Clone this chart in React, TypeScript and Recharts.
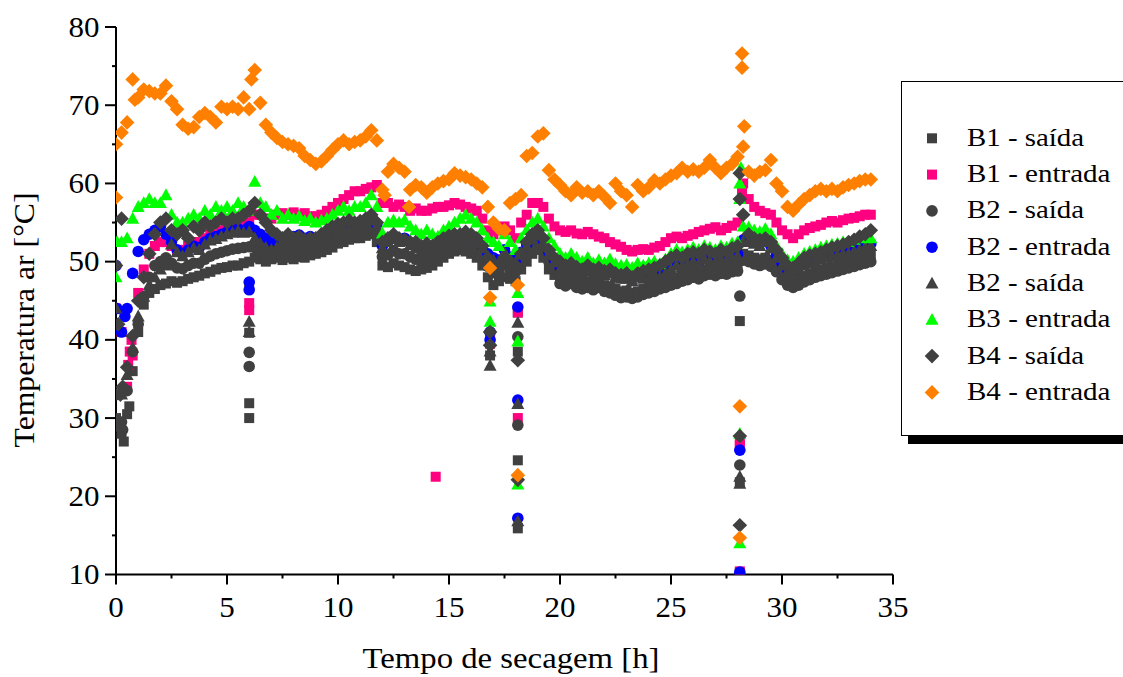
import React from 'react';
import { ScatterChart, Scatter, XAxis, YAxis } from 'recharts';

// Tempo de secagem [h] (0.25 h grid)
const TIMES = [
  0, 0.25, 0.5, 0.75, 1, 1.25, 1.5, 1.75, 2, 2.25, 2.5, 2.75, 3, 3.25, 3.5, 3.75,
  4, 4.25, 4.5, 4.75, 5, 5.25, 5.5, 5.75, 6, 6.25, 6.5, 6.75, 7, 7.25, 7.5, 7.75,
  8, 8.25, 8.5, 8.75, 9, 9.25, 9.5, 9.75, 10, 10.25, 10.5, 10.75, 11, 11.25, 11.5, 11.75,
  12, 12.25, 12.5, 12.75, 13, 13.25, 13.5, 13.75, 14, 14.25, 14.5, 14.75, 15, 15.25, 15.5, 15.75,
  16, 16.25, 16.5, 16.75, 17, 17.25, 17.5, 17.75, 18, 18.25, 18.5, 18.75, 19, 19.25, 19.5, 19.75,
  20, 20.25, 20.5, 20.75, 21, 21.25, 21.5, 21.75, 22, 22.25, 22.5, 22.75, 23, 23.25, 23.5, 23.75,
  24, 24.25, 24.5, 24.75, 25, 25.25, 25.5, 25.75, 26, 26.25, 26.5, 26.75, 27, 27.25, 27.5, 27.75,
  28, 28.25, 28.5, 28.75, 29, 29.25, 29.5, 29.75, 30, 30.25, 30.5, 30.75, 31, 31.25, 31.5, 31.75,
  32, 32.25, 32.5, 32.75, 33, 33.25, 33.5, 33.75, 34,
];

// B1 - saída (square, dark gray)
const B1_SAIDA = [
  30, 28, 30.5, 36, 41, 44.5, 46, 46.5, 47, 47.2, 47.5, 47.3, 47.5, 47.8, 48, 48.2,
  48.5, 48.7, 49, 49.2, 49.3, 49.5, 49.5, 49.8, 50, 50.5, 50.3, 50, 50.3, 50.5, 50.2, 50.5,
  50.3, 50.6, 50.5, 50.8, 51, 51.2, 51.5, 51.8, 52.3, 52.5, 52.8, 53, 53, 53.3, 53.5, 52.5,
  49.5, 49.3, 49.8, 49.5, 49.3, 49, 48.8, 49, 49.2, 49.5, 50, 50.5, 51, 51.3, 51.5, 51.3,
  51, 50.5, 49.5, 48, 47, 47.5, 48, 47.8, 47.5, 49, 50, 51, 51.5, 50.5, 49, 48.3,
  48, 47.7, 48, 47.5, 47.3, 47.5, 47.2, 47.5, 47, 46.8, 46.5, 46.2, 46.3, 46, 46.2, 46.5,
  46.8, 47, 47.3, 47.5, 47.8, 48, 48.3, 48.5, 48.8, 48.6, 49, 49.2, 49, 49.3, 49.2, 49.5,
  49.6, 51, 50.8, 50.5, 50.3, 50.5, 50.2, 49.5, 48.5, 47.8, 47.5, 47.8, 48.2, 48.5, 48.8, 49,
  49.2, 49.4, 49.6, 49.8, 50, 50.2, 50.4, 50.6, 50.8,
];
const B1_SAIDA_EXTRA = [
  [0.35, 27], [0.6, 31.5], [6.0, 47], [6.0, 40.9], [6.0, 31.9], [6.0, 30],
  [16.85, 38], [18.1, 43.5], [18.1, 38.5], [18.1, 24.6], [18.1, 15.9],
  [28.1, 42.4], [28.1, 21.8], [28.1, 10.2],
];

// B1 - entrada (square, pink)
const B1_ENTRADA = [
  44, 41, 34, 38, 46, 49, 51, 52, 52.5, 52.5, 52, 51.5, 51.5, 52, 52.5, 52.5,
  53, 53.5, 53.5, 54, 54, 54.5, 54.5, 55, 55, 56, 56, 55.5, 55.5, 56, 56.2, 56,
  56.3, 56, 56.2, 55.8, 55.8, 56, 56.5, 57, 57.5, 58, 58.5, 59, 59, 59.3, 59.5, 59.8,
  57.5, 57.5, 57, 57.3, 57, 56.5, 56.8, 56.5, 56.5, 56.8, 57, 57, 57.2, 57.5, 57.3, 57,
  56.8, 56.5, 55.5, 54, 53.5, 54, 54.5, 54, 53, 55, 56, 57.5, 57.5, 57, 55.5, 54.5,
  54, 53.8, 54, 53.6, 53.5, 53.8, 53.5, 53.2, 53, 52.5, 52.2, 51.9, 51.5, 51.3, 51.5, 51.6,
  51.5, 51.8, 52, 52.5, 53, 53.2, 53, 53.3, 53.5, 53.8, 54, 54.2, 54.4, 54, 54.3, 54.6,
  55, 60, 58, 57, 56.5, 56.2, 56, 55, 54, 53.5, 53, 53.5, 54, 54.3, 54.5, 54.7,
  55, 55.2, 55, 55.3, 55.5, 55.6, 55.8, 56, 56,
];
const B1_ENTRADA_EXTRA = [
  [0.55, 36.8], [0.62, 38.5], [0.7, 40], [6.0, 44.7], [6.0, 43.8], [14.4, 22.5],
  [16.85, 40.5], [16.85, 39.5], [18.1, 43.5], [18.1, 30], [28.1, 27], [28.1, 26.5],
  [28.1, 10.4], [28.2, 59],
];

// B2 - saída (circle, dark gray)
const B2_SAIDA_C = [
  33, 29.5, 33.5, 38.5, 42, 45.5, 48, 49.5, 50, 50.5, 49.8, 49.2, 49.1, 49.5, 49.8, 49.8,
  50.3, 50.7, 51, 51.2, 51.4, 51.6, 51.7, 51.8, 51.9, 51.8, 51.3, 50.9, 50.9, 51.2, 51.4, 51.7,
  51.6, 51.9, 51.6, 51.9, 51.8, 52, 52.3, 52.7, 53.1, 53.4, 53.5, 53.8, 53.8, 54.1, 54.4, 53.5,
  50.6, 50.9, 51.4, 51, 51, 50.6, 50.3, 50.2, 50.5, 50.4, 50.8, 51.2, 51.7, 52, 52.3, 52.3,
  52, 51.5, 50.6, 49.4, 48.6, 48.7, 49.6, 49, 48.7, 50, 51, 52, 52.5, 51.5, 50, 49.1,
  47.2, 46.9, 47.2, 46.7, 46.5, 46.7, 46.4, 46.7, 46.2, 46, 45.7, 45.4, 45.5, 45.3, 45.5, 45.8,
  46, 46.2, 46.5, 46.7, 47, 47.2, 47.5, 47.7, 48, 47.8, 48.2, 48.4, 48.2, 48.5, 48.4, 48.7,
  48.8, 50.2, 50, 49.7, 49.5, 49.7, 49.4, 48.7, 47.7, 47, 46.7, 47, 47.4, 47.7, 48, 48.2,
  48.4, 48.6, 48.8, 49, 49.2, 49.4, 49.6, 49.8, 50,
];
const B2_SAIDA_C_EXTRA = [
  [0.1, 29], [0.3, 28.5], [6.0, 38.4], [6.0, 36.6], [16.85, 41], [18.1, 40.4],
  [18.1, 29.1], [28.1, 45.6], [28.1, 24],
];

// B2 - entrada (circle, blue)
const B2_ENTRADA = [
  49.5, 41, 44, 48.5, 51.3, 52.8, 53.5, 54, 54.5, 53.5, 52.5, 51.5, 51, 51.5, 52, 51.8,
  52.5, 53, 53.2, 53.5, 53.8, 54, 54.2, 54, 54.5, 54, 53.5, 53, 52.4, 52.6, 53, 53.2,
  53.2, 53.4, 53, 53.2, 52.8, 53, 53.3, 53.8, 54.2, 54.5, 54.4, 54.8, 54.8, 55.2, 55.6, 54.8,
  52, 52.8, 53.2, 52.8, 53, 52.4, 52, 51.6, 52, 51.6, 51.8, 52.2, 52.6, 53, 53.3, 53.5,
  53.3, 52.8, 52, 51, 50.5, 50.2, 51.5, 50.6, 50.2, 51.2, 52.2, 53.2, 53.7, 52.7, 51.2, 50.2,
  49.3, 49, 49.3, 49, 48.8, 49.1, 48.6, 48.8, 48.6, 48.8, 48.3, 48.1, 48.1, 47.8, 48.3, 48.1,
  48.3, 48.6, 48.3, 48.8, 49.3, 49.8, 49.6, 50, 50.3, 50, 50.6, 50.3, 50.1, 50.6, 50.3, 50.8,
  51, 52.8, 52.8, 52.6, 52.3, 52.8, 52, 50.8, 49.8, 49, 48.8, 49.3, 49.8, 50.1, 50.3, 50.6,
  50.8, 51, 51.1, 51.3, 51.3, 51.6, 51.8, 52.1, 52.3,
];
const B2_ENTRADA_EXTRA = [
  [0.05, 44], [0.4, 43], [6.0, 47.4], [6.0, 46.4], [16.85, 41], [16.85, 40],
  [18.1, 44.2], [18.1, 32.3], [18.1, 17.2], [28.1, 25.9], [28.1, 10.3],
];

// B2 - saída (triangle, dark gray)
const B2_SAIDA_T = [
  44, 33, 35.5, 39, 43, 45.5, 47, 48, 49, 49.5, 52.2, 51.2, 50.7, 51.2, 51.7, 51.5,
  52.2, 52.7, 52.9, 53.2, 53.5, 53.7, 53.9, 53.7, 53.8, 53, 52.3, 51.8, 51.5, 51.8, 52.5, 52.9,
  52.9, 53.1, 52.7, 52.9, 52.5, 52.7, 53, 53.5, 53.9, 54.2, 54.1, 54.5, 54.5, 54.9, 55.3, 54.5,
  51.7, 52.5, 52.9, 52.5, 52.7, 52.1, 51.7, 51.3, 51.7, 51.3, 51.5, 51.9, 52.3, 52.7, 53, 53.2,
  53, 52.5, 51.7, 50.7, 50.2, 49.9, 51.2, 50.3, 49.9, 50.9, 51.9, 52.9, 53.4, 52.4, 50.9, 49.9,
  49, 48.7, 49, 48.7, 48.5, 48.8, 48.3, 48.5, 48.3, 48.5, 48, 47.8, 47.8, 47.5, 48, 47.8,
  48, 48.3, 48, 48.5, 49, 49.5, 49.3, 49.7, 50, 49.7, 50.3, 50, 49.8, 50.3, 50, 50.5,
  50.7, 52.5, 52.5, 52.3, 52, 52.5, 51.7, 50.5, 49.5, 48.7, 48.5, 49, 49.5, 49.8, 50, 50.3,
  50.5, 50.7, 50.8, 51, 51, 51.3, 51.5, 51.8, 52,
];
const B2_SAIDA_T_EXTRA = [
  [6.0, 42.3], [6.0, 41], [16.85, 36.7], [16.85, 38.5], [18.1, 42.2], [18.1, 31.8],
  [18.1, 16.8], [28.1, 21.6], [28.1, 22.5],
];

// B3 - entrada (triangle, green)
const B3_ENTRADA = [
  48, 52.5, 53, 55.5, 57, 57.5, 58, 57.5, 57.5, 58.5, 56, 55, 55, 55.5, 56, 55.5,
  56.5, 56, 57, 56.5, 57, 56.5, 57.5, 57, 56.5, 60.2, 57.5, 57, 56, 56.5, 55.5, 56,
  55.5, 55.8, 55.2, 55.5, 55, 55.3, 55.5, 56, 56.5, 57, 56.5, 57, 57, 57.5, 58.5, 57,
  53.6, 55, 55.3, 55, 55.3, 54.5, 54, 53.5, 54, 53.5, 53.2, 54, 54.5, 55, 55.5, 56,
  55.5, 55, 54, 53, 52.5, 52, 53.5, 52.5, 51.5, 53, 54, 55, 55.5, 54.5, 53, 52,
  51, 50.5, 51, 50.5, 50, 50.5, 49.8, 50.2, 49.8, 50.3, 49.7, 49.5, 49.6, 49.2, 49.8, 49.5,
  49.8, 50, 49.7, 50.3, 51, 51.5, 51.2, 51.5, 51.8, 51.5, 52, 51.8, 51.5, 52, 51.8, 52.3,
  52.5, 54.5, 54.4, 54, 53.8, 54.2, 53.5, 52, 51, 50.2, 50, 50.5, 51, 51.3, 51.5, 51.8,
  52, 52.2, 52.3, 52.5, 52.5, 52.8, 53, 53.2, 53,
];
const B3_ENTRADA_EXTRA = [
  [0.05, 52.5], [16.85, 44.9], [16.85, 42.3], [18.1, 46], [18.1, 39.8], [18.1, 21.5],
  [28.1, 14], [28.1, 28], [28.1, 58], [28.1, 60], [28.15, 62],
];

// B4 - saída (diamond, dark gray)
const B4_SAIDA = [
  49.5, 55.5, 36.5, 40.5, 45, 48, 51, 53.5, 55, 55.5, 54, 53.5, 54, 53, 54.5, 54,
  55, 54.5, 55, 55.5, 55, 55.5, 55.5, 56, 56.5, 57.5, 56, 55, 54, 53.5, 53, 53.5,
  53, 53.2, 52.8, 53, 53, 53.5, 54, 54.5, 54.8, 55, 55.3, 55, 55.2, 55.5, 56, 55,
  52.5, 53, 53.5, 53, 52.8, 52.5, 52.5, 52, 52.3, 52, 52.5, 53, 53.3, 53.5, 53.5, 53.8,
  53.5, 53, 52, 50.5, 49, 49.5, 50.5, 50, 49.5, 51, 52.5, 53.5, 54, 53, 51.5, 50.5,
  50, 49.5, 49.8, 49.3, 49, 49.5, 49, 49.2, 48.8, 49, 48.5, 48.3, 48.5, 48, 48.5, 48.8,
  49, 49.2, 49.5, 50, 50.5, 50.8, 50.5, 51, 51.2, 51, 51.5, 51.3, 51, 51.5, 51.2, 51.7,
  52, 56, 53.5, 53, 52.8, 53, 52.5, 51.5, 50.5, 49.5, 49.2, 49.8, 50.5, 50.8, 51, 51.2,
  51.5, 51.8, 52, 52.2, 52.5, 52.8, 53.2, 53.5, 54,
];
const B4_SAIDA_EXTRA = [
  [0.1, 42], [0.2, 33], [0.3, 34], [16.85, 41], [16.85, 39.3], [18.1, 37.4],
  [18.1, 22.1], [28.1, 61.3], [28.1, 58], [28.1, 27.7], [28.1, 16.3],
];

// B4 - entrada (diamond, orange)
const B4_ENTRADA = [
  65, 66.5, 67.8, 73.3, 71, 72, 71.8, 71.5, 71.5, 72.5, 70.5, 69.5, 67.5, 67, 67.2, 68.5,
  69, 68.5, 67.8, 69.8, 69.5, 69.8, 69.5, 71, 69.5, 74.5, 70.3, 67.5, 66.5, 65.8, 65.3, 65,
  64.8, 64.5, 63.5, 63, 62.5, 62.8, 63.5, 64.3, 65, 65.5, 65, 65.3, 65.5, 66, 66.8, 65.5,
  59.2, 61.5, 62.5, 62, 61.5, 59.2, 59.8, 59.5, 58.8, 59.5, 60, 60.3, 60.5, 61.3, 61, 60.8,
  60.5, 60, 59.5, 57, 55, 54.2, 54, 57.5, 58, 58.5, 63.5, 63.9, 66, 66.4, 61.7, 60.5,
  59.8, 59, 58.5, 59.5, 58.8, 59, 58.5, 59, 58.3, 57.5, 60, 59, 58.5, 57, 59.8, 59,
  59.5, 60.4, 60, 60.5, 61, 61.3, 62, 61.5, 61.8, 61.5, 62, 63, 62, 61.3, 62, 62.5,
  63.4, 64.7, 61.5, 61, 61.5, 61.7, 63, 60, 59, 57, 56.5, 57.3, 58, 58.5, 59, 59.3,
  59, 59.3, 59, 59.5, 59.8, 60, 60.3, 60.5, 60.5,
];
const B4_ENTRADA_EXTRA = [
  [0, 58.2], [0.85, 70.7], [6.1, 73.3], [12.1, 58.5], [13.2, 57], [28.2, 76.6],
  [28.2, 74.8], [28.3, 67.3], [16.85, 49.2], [16.85, 45.4], [18.1, 47], [18.1, 22.7],
  [28.1, 31.5], [28.1, 14.7],
];

const X_TICKS = [0, 2.5, 5, 7.5, 10, 12.5, 15, 17.5, 20, 22.5, 25, 27.5, 30, 32.5, 35];
const Y_TICKS = [10, 15, 20, 25, 30, 35, 40, 45, 50, 55, 60, 65, 70, 75, 80];

const GRAY = '#404040';
const PINK = '#ff0080';
const BLUE = '#0000ff';
const GREEN = '#00ff00';
const ORANGE = '#ff8000';
const FONT = "'Liberation Serif', 'Times New Roman', Tinos, 'DejaVu Serif', serif";

type Kind = 'square' | 'circle' | 'triangle' | 'diamond';

const SERIES: { name: string; kind: Kind; color: string; values: number[]; extra: number[][] }[] = [
  { name: 'B1 - saída', kind: 'square', color: GRAY, values: B1_SAIDA, extra: B1_SAIDA_EXTRA },
  { name: 'B1 - entrada', kind: 'square', color: PINK, values: B1_ENTRADA, extra: B1_ENTRADA_EXTRA },
  { name: 'B2 - saída', kind: 'circle', color: GRAY, values: B2_SAIDA_C, extra: B2_SAIDA_C_EXTRA },
  { name: 'B2 - entrada', kind: 'circle', color: BLUE, values: B2_ENTRADA, extra: B2_ENTRADA_EXTRA },
  { name: 'B2 - saída', kind: 'triangle', color: GRAY, values: B2_SAIDA_T, extra: B2_SAIDA_T_EXTRA },
  { name: 'B3 - entrada', kind: 'triangle', color: GREEN, values: B3_ENTRADA, extra: B3_ENTRADA_EXTRA },
  { name: 'B4 - saída', kind: 'diamond', color: GRAY, values: B4_SAIDA, extra: B4_SAIDA_EXTRA },
  { name: 'B4 - entrada', kind: 'diamond', color: ORANGE, values: B4_ENTRADA, extra: B4_ENTRADA_EXTRA },
];

function Marker({ kind, color, cx, cy }: { kind: Kind; color: string; cx: number; cy: number }) {
  if (cx == null || cy == null || isNaN(cx) || isNaN(cy)) return null;
  if (kind === 'square') return <rect x={cx - 5} y={cy - 5} width={10} height={10} fill={color} />;
  if (kind === 'circle') return <circle cx={cx} cy={cy} r={5.8} fill={color} />;
  if (kind === 'triangle')
    return <polygon points={`${cx},${cy - 6.8} ${cx - 6.5},${cy + 5} ${cx + 6.5},${cy + 5}`} fill={color} />;
  return <polygon points={`${cx},${cy - 7.3} ${cx + 7.3},${cy} ${cx},${cy + 7.3} ${cx - 7.3},${cy}`} fill={color} />;
}

// layout (page = svg coordinates; the chart is fixed at the top-left corner)
const W = 1123;
const H = 677;
const AXIS_X = 116;
const AXIS_Y = 574.5;
const textStyle = { fontFamily: FONT };
const TICK_FONT = 29.5;
const DIGIT_W = 15.5;

const YTick = (props: any) => {
  const { y, payload } = props;
  const v = payload.value;
  const major = v % 10 === 0;
  const label = String(v);
  return (
    <g>
      <line x1={AXIS_X - (major ? 11 : 4)} x2={AXIS_X} y1={y} y2={y} stroke="#000" strokeWidth={2} />
      {major && (
        <text
          x={AXIS_X - 16.5}
          y={y + 9.5}
          textAnchor="end"
          style={textStyle}
          fontSize={TICK_FONT}
          textLength={label.length * DIGIT_W}
          lengthAdjust="spacingAndGlyphs"
          fill="#000"
        >
          {label}
        </text>
      )}
    </g>
  );
};

const XTick = (props: any) => {
  const { x, payload } = props;
  const v = payload.value;
  const major = v % 5 === 0;
  const label = String(v);
  return (
    <g>
      <line x1={x} x2={x} y1={AXIS_Y} y2={AXIS_Y + (major ? 10 : 4)} stroke="#000" strokeWidth={2} />
      {major && (
        <text
          x={x}
          y={AXIS_Y + 42.2}
          textAnchor="middle"
          style={textStyle}
          fontSize={TICK_FONT}
          textLength={label.length * DIGIT_W}
          lengthAdjust="spacingAndGlyphs"
          fill="#000"
        >
          {label}
        </text>
      )}
    </g>
  );
};

const XTitle = () => (
  <text
    x={511}
    y={668}
    textAnchor="middle"
    style={textStyle}
    fontSize={29.5}
    textLength={297}
    lengthAdjust="spacingAndGlyphs"
    fill="#000"
  >
    Tempo de secagem [h]
  </text>
);

const YTitle = () => (
  <text
    x={320.5}
    y={34}
    transform="translate(0, 640.5) rotate(-90, 0, 0) translate(0, 0)"
    textAnchor="middle"
    style={textStyle}
    fontSize={29.5}
    textLength={255}
    lengthAdjust="spacingAndGlyphs"
    fill="#000"
  >
    Temperatura ar [°C]
  </text>
);

const LEGEND_TEXT_W: Record<string, number> = { saída: 117, entrada: 143.5 };

function LegendBox() {
  const rowH = 36.3;
  const firstRow = 56.3;
  return (
    <div
      style={{
        position: 'absolute',
        left: 901,
        top: 81,
        width: 300,
        height: 355,
        boxSizing: 'border-box',
        border: '1px solid #000',
        background: '#fff',
        boxShadow: '7px 8px 0 #000',
      }}
    >
      <svg width={298} height={353} style={{ display: 'block' }}>
        {SERIES.map((s, i) => {
          const cy = firstRow + i * rowH;
          const kind = s.name.endsWith('entrada') ? 'entrada' : 'saída';
          return (
            <g key={i}>
              <Marker kind={s.kind} color={s.color} cx={30} cy={cy} />
              <text
                x={65}
                y={cy + 7.5}
                style={textStyle}
                fontSize={25.5}
                textLength={LEGEND_TEXT_W[kind]}
                lengthAdjust="spacingAndGlyphs"
                fill="#000"
              >
                {s.name}
              </text>
            </g>
          );
        })}
      </svg>
    </div>
  );
}

export default function App() {
  const datasets = SERIES.map((s) => [
    ...TIMES.map((t, i) => ({ x: t, y: s.values[i] })),
    ...s.extra.map(([x, y]) => ({ x, y })),
  ]);
  return (
    <div
      style={{
        position: 'fixed',
        left: 0,
        top: 0,
        width: W,
        height: H,
        overflow: 'hidden',
        background: '#fff',
      }}
    >
      <ScatterChart width={W} height={H} margin={{ top: 27, right: 230, left: 0, bottom: 12.5 }}>
        <XAxis
          type="number"
          dataKey="x"
          domain={[0, 35]}
          ticks={X_TICKS}
          interval={0}
          height={90}
          tickLine={false}
          tickSize={0}
          tickMargin={0}
          axisLine={{ stroke: '#000', strokeWidth: 2 }}
          tick={<XTick />}
          label={{ value: 'Tempo de secagem [h]', content: XTitle }}
          allowDataOverflow
        />
        <YAxis
          type="number"
          dataKey="y"
          domain={[10, 80]}
          ticks={Y_TICKS}
          interval={0}
          width={116}
          tickLine={false}
          tickSize={0}
          tickMargin={0}
          axisLine={{ stroke: '#000', strokeWidth: 2 }}
          tick={<YTick />}
          label={{ value: 'Temperatura ar [°C]', content: YTitle }}
          allowDataOverflow
        />
        {SERIES.map((s, i) => (
          <Scatter
            key={i}
            name={s.name}
            data={datasets[i]}
            isAnimationActive={false}
            shape={(p: any) => <Marker kind={s.kind} color={s.color} cx={p.cx} cy={p.cy} />}
          />
        ))}
      </ScatterChart>
      <LegendBox />
    </div>
  );
}
